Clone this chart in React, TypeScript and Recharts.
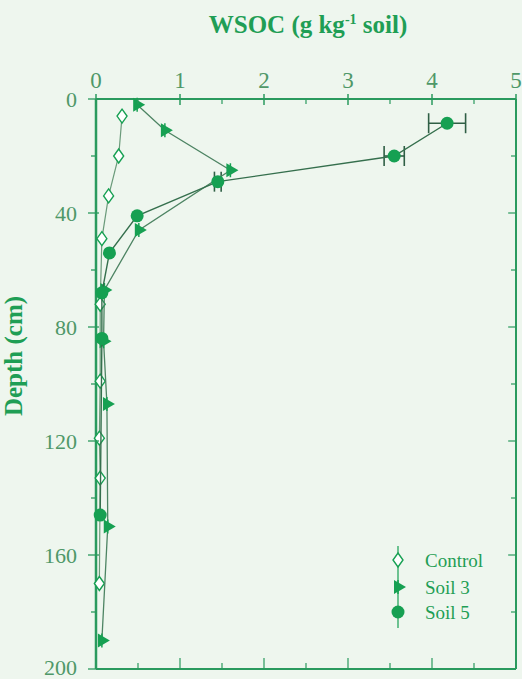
import React from 'react';
import { ScatterChart, Scatter, XAxis, YAxis, ErrorBar } from 'recharts';

// WSOC (g/kg soil) vs depth (cm)
const controlDepth = [6, 20, 34, 49, 72, 99, 119, 133, 170];
const controlWsoc = [0.31, 0.27, 0.15, 0.07, 0.05, 0.05, 0.04, 0.05, 0.04];

const soil3Depth = [2, 11, 25, 46, 67, 85, 107, 150, 190];
const soil3Wsoc = [0.49, 0.82, 1.6, 0.51, 0.1, 0.09, 0.13, 0.14, 0.07];

const soil5Depth = [8.5, 20, 29, 41, 54, 68, 84, 146];
const soil5Wsoc = [4.18, 3.55, 1.45, 0.49, 0.16, 0.07, 0.07, 0.05];
const soil5Err = [0.22, 0.12, 0.04, 0, 0, 0, 0, 0];

const xTicks = [0, 0.5, 1, 1.5, 2, 2.5, 3, 3.5, 4, 4.5, 5];
const yTicks = [0, 20, 40, 60, 80, 100, 120, 140, 160, 180, 200];
const seriesNames = ['Control', 'Soil 3', 'Soil 5'];

const BG = '#eef6ee';
const AXIS = '#2a9a5e';
const TICK_TEXT = '#4f9868';
const TITLE = '#1f9e55';
const MARK = '#16a052';
const FONT = '"Liberation Serif", "Times New Roman", serif';

const toPoints = (depth: number[], wsoc: number[], err?: number[]) =>
  depth.map((d, i) => ({ depth: d, wsoc: wsoc[i], err: err ? err[i] : 0 }));

const controlData = toPoints(controlDepth, controlWsoc);
const soil3Data = toPoints(soil3Depth, soil3Wsoc);
const soil5Data = toPoints(soil5Depth, soil5Wsoc, soil5Err);

const Diamond = ({ cx, cy }: any) => (
  <path d={`M${cx},${cy - 7}L${cx + 5},${cy}L${cx},${cy + 7}L${cx - 5},${cy}Z`} fill="#fff" stroke={MARK} strokeWidth={1.4} />
);
const Tri = ({ cx, cy }: any) => (
  <g>
    <line x1={cx} y1={cy - 7} x2={cx} y2={cy + 7} stroke={MARK} strokeWidth={1.5} />
    <path d={`M${cx - 4},${cy - 7}L${cx + 8},${cy}L${cx - 4},${cy + 7}Z`} fill={MARK} />
  </g>
);
const Dot = ({ cx, cy }: any) => <circle cx={cx} cy={cy} r={6.5} fill={MARK} />;
const NoMark = () => <g />;

// ticks are drawn by hand so they can point inwards / cross the axis line
const TopTick = ({ x, y, payload }: any) => {
  const major = Number.isInteger(payload.value);
  return (
    <g>
      {major ? (
        <line x1={x} y1={y - 5} x2={x} y2={y + 6} stroke={AXIS} strokeWidth={1.5} />
      ) : (
        <line x1={x} y1={y} x2={x} y2={y + 5} stroke={AXIS} strokeWidth={1.2} />
      )}
      {major && (
        <text x={x} y={y - 11} textAnchor="middle" fill={TICK_TEXT} fontSize={23} fontFamily={FONT}>
          {payload.value}
        </text>
      )}
    </g>
  );
};
const BottomTick = ({ x, y, payload }: any) => {
  const major = Number.isInteger(payload.value);
  return <line x1={x} y1={y} x2={x} y2={y - (major ? 11 : 6)} stroke={AXIS} strokeWidth={1.2} />;
};
const LeftTick = ({ x, y, payload }: any) => {
  const major = payload.value % 40 === 0;
  const last = payload.value === 200;
  return (
    <g>
      <line x1={x - (major ? 8 : 5)} y1={y} x2={x + (major ? 3 : 0)} y2={y} stroke={AXIS} strokeWidth={1.3} />
      {major && (
        <text x={x - 19} y={last ? y - 2 : y} dy="0.35em" textAnchor="end" fill={TICK_TEXT} fontSize={22} fontFamily={FONT}>
          {payload.value}
        </text>
      )}
    </g>
  );
};
const RightTick = ({ x, y, payload }: any) => {
  const major = payload.value % 40 === 0;
  return <line x1={x} y1={y} x2={x - (major ? 8 : 5)} y2={y} stroke={AXIS} strokeWidth={1.2} />;
};

const Legend = () => {
  const lx = 398;
  const rows = [560, 587, 612];
  const marks = [Diamond, Tri, Dot];
  return (
    <g>
      <line x1={lx} y1={546} x2={lx} y2={628} stroke={MARK} strokeWidth={1.2} />
      {seriesNames.map((name, i) => {
        const M = marks[i];
        return (
          <g key={name}>
            <M cx={lx} cy={rows[i]} />
            <text x={425} y={rows[i]} dy="0.35em" fill={TITLE} fontSize={19} fontFamily={FONT}>
              {name}
            </text>
          </g>
        );
      })}
    </g>
  );
};

export default function App() {
  return (
    <div style={{ position: 'absolute', left: 0, top: 0, width: 522, height: 679, background: BG }}>
      <ScatterChart width={522} height={679} margin={{ top: 59, right: 5, bottom: 9, left: 36 }}>
        <XAxis
          xAxisId="t"
          type="number"
          dataKey="wsoc"
          orientation="top"
          domain={[0, 5]}
          ticks={xTicks}
          height={40}
          tickSize={0}
          tickMargin={0}
          tickLine={false}
          axisLine={{ stroke: AXIS, strokeWidth: 2 }}
          tick={<TopTick />}
          interval={0}
        />
        <XAxis
          xAxisId="b"
          type="number"
          dataKey="wsoc"
          orientation="bottom"
          domain={[0, 5]}
          ticks={xTicks}
          height={1}
          tickSize={0}
          tickMargin={0}
          tickLine={false}
          axisLine={{ stroke: AXIS, strokeWidth: 2 }}
          tick={<BottomTick />}
          interval={0}
        />
        <YAxis
          yAxisId="l"
          type="number"
          dataKey="depth"
          reversed
          domain={[0, 200]}
          ticks={yTicks}
          width={60}
          tickSize={0}
          tickMargin={0}
          tickLine={false}
          axisLine={{ stroke: AXIS, strokeWidth: 2.5 }}
          tick={<LeftTick />}
          interval={0}
        />
        <YAxis
          yAxisId="r"
          type="number"
          dataKey="depth"
          orientation="right"
          reversed
          domain={[0, 200]}
          ticks={yTicks}
          width={1}
          tickSize={0}
          tickMargin={0}
          tickLine={false}
          axisLine={{ stroke: AXIS, strokeWidth: 2 }}
          tick={<RightTick />}
          interval={0}
        />
        {/* invisible series that ties the frame axes to the data */}
        <Scatter data={controlData} xAxisId="b" yAxisId="r" shape={<NoMark />} isAnimationActive={false} legendType="none" />
        <Scatter
          name="Control"
          data={controlData}
          xAxisId="t"
          yAxisId="l"
          line={{ stroke: '#6a9a7a', strokeWidth: 1.2 }}
          shape={<Diamond />}
          isAnimationActive={false}
        />
        <Scatter
          name="Soil 3"
          data={soil3Data}
          xAxisId="t"
          yAxisId="l"
          line={{ stroke: '#4d8463', strokeWidth: 1.3 }}
          shape={<Tri />}
          isAnimationActive={false}
        />
        <Scatter
          name="Soil 5"
          data={soil5Data}
          xAxisId="t"
          yAxisId="l"
          line={{ stroke: '#356f4d', strokeWidth: 1.4 }}
          shape={<Dot />}
          isAnimationActive={false}
        >
          <ErrorBar dataKey="err" direction="x" width={10} stroke="#2f5f45" strokeWidth={1.6} />
        </Scatter>
        <text x={308} y={33} textAnchor="middle" fill={TITLE} fontSize={25} fontWeight="bold" fontFamily={FONT}>
          WSOC (g kg
          <tspan dy={-9} fontSize={14}>-1</tspan>
          <tspan dy={9}> soil)</tspan>
        </text>
        <text
          transform="translate(22,356) rotate(-90)"
          textAnchor="middle"
          fill={TITLE}
          fontSize={25}
          fontWeight="bold"
          fontFamily={FONT}
        >
          Depth (cm)
        </text>
        <Legend />
      </ScatterChart>
    </div>
  );
}
